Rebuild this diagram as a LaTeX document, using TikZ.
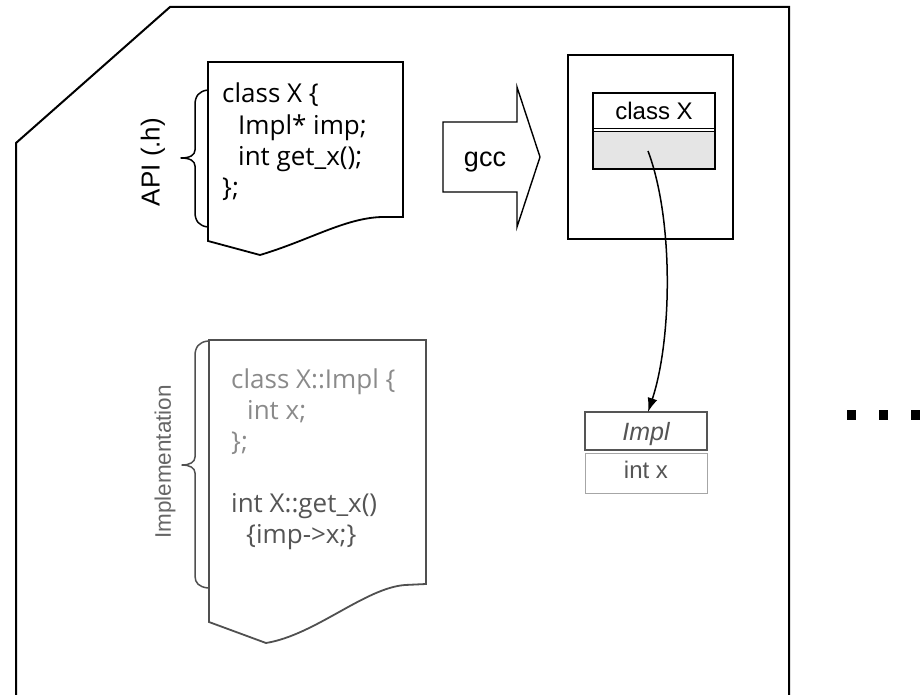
\documentclass[tikz,border=0pt]{standalone}
\usepackage{fontspec}
\setmainfont{Liberation Sans}
\newfontfamily\codefont{Open Sans}
\usetikzlibrary{arrows.meta}

\definecolor{implline}{HTML}{505050}
\definecolor{implgray}{HTML}{8A8A8A}
\definecolor{impldark}{HTML}{555555}
\definecolor{labelgray}{HTML}{666666}
\definecolor{slotgray}{HTML}{E5E5E5}

\tikzset{
  frame/.style={line width=2pt, line join=miter},
  docshape/.style={line width=1.8pt, line join=miter},
  bracepath/.style={line width=1.5pt, line join=round, line cap=round},
  codeline/.style={anchor=base west, inner sep=0pt, font=\codefont\fontsize{26}{26}\selectfont},
  boxtext/.style={anchor=base, inner sep=0pt, font=\fontsize{24}{24}\selectfont},
  sidelabel/.style={rotate=90, inner sep=0pt},
  dotmark/.style={fill=black, minimum size=9.5pt, inner sep=0pt, draw=none, rectangle},
}

\begin{document}
\begin{tikzpicture}[x=1pt, y=-1pt]
\useasboundingbox (0,0) rectangle (921,695);

% outer module frame with bevelled corner
\coordinate (fbl) at (16,697);
\coordinate (fbr) at (789,697);
\draw[frame] (fbl) -- (16,143) -- (170,7) -- (789,7) -- (fbr);

% API header document
\draw[docshape] (208,62) -- (403,62) -- (403,217) -- (382,217)
  .. controls (345,218) and (310,240) .. (260,255) -- (208,241) -- cycle;
\node[codeline] (a1) at (222,103) {class X \{};
\node[codeline] (a2) at (238,134.3) {Impl* imp;};
\node[codeline] (a3) at (238,165.6) {int get\_x();};
\node[codeline] (a4) at (222,197) {\};};

% brace with label
\draw[bracepath] (208,90) .. controls (199,91) and (195,96) .. (195,105)
  -- (195,150) .. controls (195,155) and (190,158) .. (181,158)
  .. controls (190,158) and (195,161) .. (195,166)
  -- (195,212) .. controls (195,221) and (199,226) .. (208,227);
\node[sidelabel, font=\fontsize{26}{26}\selectfont] (api) at (153,162) {API (.h)};

% compiler block arrow
\draw[line width=1.4pt, line join=miter] (443,122) -- (517,122) -- (517,87)
  -- (540,157) -- (517,227) -- (517,192) -- (443,192) -- cycle;
\node[boxtext, font=\fontsize{27}{27}\selectfont] (gcc) at (485,167) {gcc};

% compiled object with class X layout
\draw[line width=1.5pt] (568,55) rectangle (733,239);
\fill[slotgray] (593,131.7) rectangle (715,169);
\draw[line width=1.4pt] (593,93) rectangle (715,169);
\draw[line width=1.3pt] (593,128.3) -- (715,128.3);
\draw[line width=1.3pt] (593,131.7) -- (715,131.7);
\node[boxtext] (cx) at (654,120) {class X};
\coordinate (slot) at (648,151);

% Impl object
\draw[line width=1pt, draw=gray!70] (585,453) rectangle (707,493);
\draw[line width=1.4pt, draw=impldark] (585,412) rectangle (707,450);
\node[boxtext, text=impldark, font=\itshape\fontsize{25}{25}\selectfont] (impl) at (646,440) {Impl};
\node[boxtext, text=impldark] (ix) at (646,478) {int x};
\coordinate (impltop) at (648,412);

% pointer from the slot to the Impl object
\draw[line width=1.5pt, -{Latex[length=14pt,width=10pt]}] (slot)
  .. controls (674,220) and (672,340) .. (impltop);

% implementation document
\draw[docshape, draw=implline] (209,340) -- (426,340) -- (426,584) -- (405,585)
  .. controls (365,588) and (315,635) .. (266,643) -- (209,622) -- cycle;
\node[codeline, text=implgray] (b1) at (231,388) {class X::Impl \{};
\node[codeline, text=implgray] (b2) at (247,419) {int x;};
\node[codeline, text=implgray] (b3) at (231,450) {\};};
\node[codeline, text=impldark] (b4) at (231,512) {int X::get\_x()};
\node[codeline, text=impldark] (b5) at (246,543) {\{imp->x;\}};

\draw[bracepath, draw=implline] (208,341) .. controls (199,342) and (195,347) .. (195,356)
  -- (195,457) .. controls (195,462) and (190,465) .. (182,465)
  .. controls (190,465) and (195,468) .. (195,473)
  -- (195,576) .. controls (195,583) and (199,587) .. (208,588);
\node[sidelabel, text=labelgray, font=\fontsize{22.5}{22.5}\selectfont] (impllab) at (165,462) {Implementation};

% continuation marks
\node[dotmark] (d1) at (851.5,415) {};
\node[dotmark] (d2) at (883.5,415) {};
\node[dotmark] (d3) at (915.5,415) {};
\end{tikzpicture}
\end{document}
